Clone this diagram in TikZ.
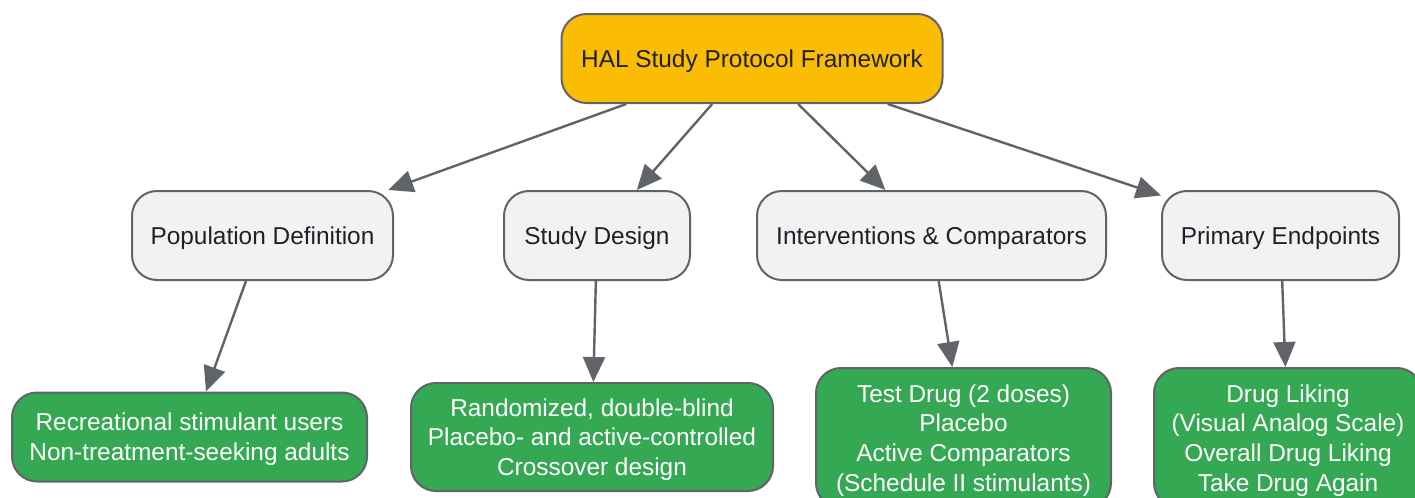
\documentclass[tikz,border=0pt]{standalone}
\usepackage{fontspec}
\setmainfont{Liberation Sans}
\usetikzlibrary{arrows.meta}

\definecolor{halyellow}{HTML}{FBBC04}
\definecolor{halgreen}{HTML}{34A853}
\definecolor{halgray}{HTML}{F1F2F4}
\definecolor{haledge}{HTML}{606368}
\definecolor{haltext}{HTML}{202124}

\begin{document}
\begin{tikzpicture}[
        x=0.5pt, y=-0.5pt,
        font=\fontsize{12.2}{14.9}\selectfont,
        box/.style={draw=haledge, line width=1pt, rounded corners=12.5pt, align=center, inner sep=0pt, text depth=0pt},
        main/.style={box, fill=halyellow, text=haltext},
        group/.style={box, fill=halgray, text=haltext},
        item/.style={box, fill=halgreen, text=white},
        link/.style={-{Triangle[length=12.5pt, width=11pt]}, draw=haledge, line width=1.2pt}
    ]
        % --- Marco ---
        \useasboundingbox (0,0) rectangle (1415,498);

        % --- Nodo principal ---
        \node[main, minimum width=190.5pt, minimum height=44.5pt] (hal) at (752,58.5) {HAL Study Protocol Framework};

        % --- Segundo nivel ---
        \node[group, minimum width=130.5pt, minimum height=44.5pt] (pop) at (262.5,235.5) {Population Definition};
        \node[group, minimum width=93pt, minimum height=44.5pt] (design) at (597,235.5) {Study Design};
        \node[group, minimum width=174.5pt, minimum height=44.5pt] (interv) at (931.5,235.5) {Interventions \& Comparators};
        \node[group, minimum width=118.5pt, minimum height=44.5pt] (endpts) at (1280.5,235.5) {Primary Endpoints};

        % --- Tercer nivel ---
        \node[item, minimum width=177.5pt, minimum height=44.5pt] (users) at (189.5,437) {Recreational stimulant users\\Non-treatment-seeking adults};
        \node[item, minimum width=181pt, minimum height=54pt] (rand) at (592,437) {Randomized, double-blind\\Placebo- and active-controlled\\Crossover design};
        \node[item, minimum width=147.5pt, minimum height=70pt] (drugs) at (963.5,438) {Test Drug (2 doses)\\Placebo\\Active Comparators\\(Schedule II stimulants)};
        \node[item, minimum width=134pt, minimum height=70pt] (liking) at (1288,438) {Drug Liking\\(Visual Analog Scale)\\Overall Drug Liking\\Take Drug Again};

        % --- Flechas ---
        \draw[link] (hal) -- (pop);
        \draw[link] (hal) -- (design);
        \draw[link] (hal) -- (interv);
        \draw[link] (hal) -- (endpts);
        \draw[link] (pop) -- (users);
        \draw[link] (design) -- (rand);
        \draw[link] (interv) -- (drugs);
        \draw[link] (endpts) -- (liking);
    \end{tikzpicture}
\end{document}
